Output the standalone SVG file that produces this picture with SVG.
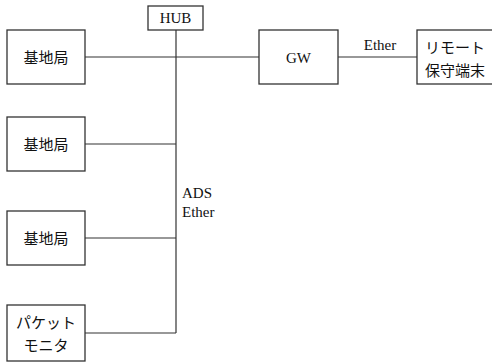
<svg xmlns="http://www.w3.org/2000/svg" width="492" height="363" viewBox="0 0 492 363">
<style>
.box{fill:#fff;stroke:#333;stroke-width:1.3}
.ln{stroke:#333;stroke-width:1.2;fill:none}
.jp{font-family:"Noto Sans CJK JP","Noto Sans",sans-serif;font-size:15px;fill:#111;text-anchor:middle}
.en{font-family:"Liberation Serif",serif;font-size:15px;fill:#111}
</style>
<rect width="492" height="363" fill="#fff"/>
<g id="connectors">
<line class="ln" x1="176" y1="30" x2="176" y2="333"/>
<line class="ln" x1="85" y1="57" x2="259" y2="57"/>
<line class="ln" x1="338" y1="57" x2="417" y2="57"/>
<line class="ln" x1="85" y1="144" x2="176" y2="144"/>
<line class="ln" x1="85" y1="238" x2="176" y2="238"/>
<line class="ln" x1="85" y1="333" x2="176" y2="333"/>
<text class="en" x="380" y="50" text-anchor="middle">Ether</text>
<text class="en" x="182" y="198">ADS</text>
<text class="en" x="182" y="217">Ether</text>
</g>
<g id="hub"><rect class="box" x="148" y="6" width="55" height="24"/><text class="en" x="175.5" y="23" text-anchor="middle">HUB</text></g>
<g id="bs1"><rect class="box" x="7" y="30" width="78" height="54"/><text class="jp" x="46" y="63">基地局</text></g>
<g id="bs2"><rect class="box" x="7" y="117" width="78" height="54"/><text class="jp" x="46" y="150">基地局</text></g>
<g id="bs3"><rect class="box" x="7" y="211" width="78" height="54"/><text class="jp" x="46" y="244">基地局</text></g>
<g id="pm"><rect class="box" x="7" y="305" width="78" height="56"/><text class="jp" x="46" y="328">パケット</text><text class="jp" x="46" y="351">モニタ</text></g>
<g id="gw"><rect class="box" x="259" y="30" width="79" height="54"/><text class="en" x="298.5" y="63" text-anchor="middle">GW</text></g>
<g id="remote"><rect class="box" x="417" y="30" width="80" height="54"/><text class="jp" x="455" y="53">リモート</text><text class="jp" x="455" y="76">保守端末</text></g>
</svg>
